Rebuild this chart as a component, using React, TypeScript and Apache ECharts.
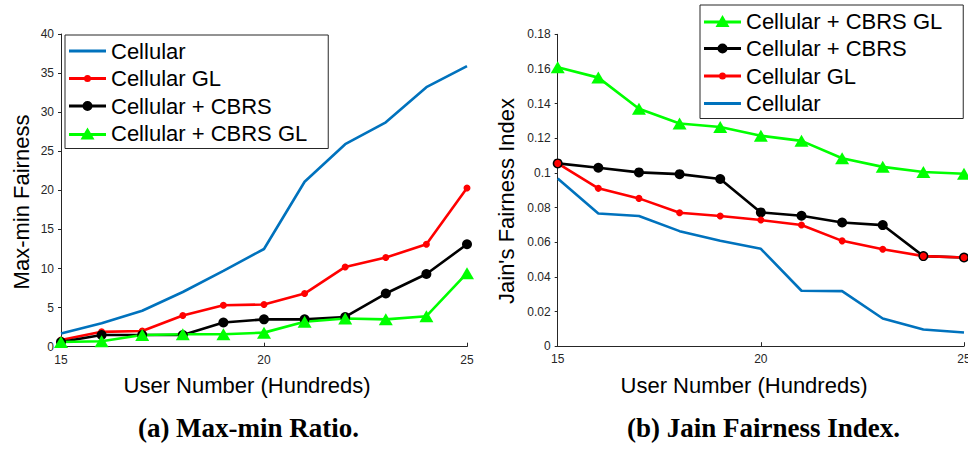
import React, { useEffect, useRef } from "react";
import * as echarts from "echarts";

const users = [15, 16, 17, 18, 19, 20, 21, 22, 23, 24, 25];

const maxMinCellular = [1.7, 3.0, 4.6, 7.0, 9.7, 12.5, 21.1, 25.9, 28.7, 33.2, 35.9];
const maxMinCellularGL = [0.85, 1.9, 2.0, 4.0, 5.3, 5.4, 6.8, 10.2, 11.4, 13.1, 20.3];
const maxMinCbrs = [0.6, 1.5, 1.5, 1.5, 3.1, 3.5, 3.5, 3.8, 6.8, 9.3, 13.1];
const maxMinCbrsGL = [0.6, 0.7, 1.5, 1.6, 1.6, 1.8, 3.2, 3.6, 3.5, 3.9, 9.4];

const jainCbrsGL = [0.161, 0.155, 0.137, 0.1285, 0.1265, 0.1215, 0.1185, 0.1085, 0.1035, 0.1005, 0.0995];
const jainCbrs = [0.1055, 0.103, 0.1003, 0.0993, 0.0965, 0.0772, 0.0753, 0.0714, 0.0699, 0.052, 0.0512];
const jainCellularGL = [0.1055, 0.0911, 0.0853, 0.077, 0.0751, 0.0728, 0.0699, 0.0608, 0.056, 0.052, 0.0512];
const jainCellular = [0.0968, 0.0766, 0.0751, 0.0664, 0.0608, 0.0562, 0.032, 0.0318, 0.016, 0.0096, 0.0079];

const xTicks = [15, 20, 25];
const leftLegendOrder = ["Cellular", "Cellular GL", "Cellular + CBRS", "Cellular + CBRS GL"];
const rightLegendOrder = ["Cellular + CBRS GL", "Cellular + CBRS", "Cellular GL", "Cellular"];

const COLORS: Record<string, string> = {
  Cellular: "#0072BD",
  "Cellular GL": "#FF0000",
  "Cellular + CBRS": "#000000",
  "Cellular + CBRS GL": "#00FF00",
};

const ICONS: Record<string, string> = {
  Cellular: "path://M0 0H37V3H0Z",
  "Cellular GL": "path://M0 1.5H37V4.5H0Z M15 3 A3.5 3.5 0 1 1 22 3 A3.5 3.5 0 1 1 15 3Z",
  "Cellular + CBRS": "path://M0 3.5H37V6.5H0Z M13.5 5 A5 5 0 1 1 23.5 5 A5 5 0 1 1 13.5 5Z",
  "Cellular + CBRS GL": "path://M0 5.5H37V8.5H0Z M11.5 12 L18.5 0 L25.5 12Z",
};

const SYMBOLS: Record<string, { symbol: string; size: number | number[] }> = {
  Cellular: { symbol: "none", size: 0 },
  "Cellular GL": { symbol: "circle", size: 7 },
  "Cellular + CBRS": { symbol: "circle", size: 10 },
  "Cellular + CBRS GL": { symbol: "triangle", size: [14, 12] },
};

const FONT = "Liberation Sans, Arial, Helvetica, sans-serif";
const AXIS_COLOR = "#262626";

function makeSeries(name: string, values: number[], idx: number) {
  const s = SYMBOLS[name];
  return {
    type: "line",
    name,
    xAxisIndex: idx,
    yAxisIndex: idx,
    data: users.map((u, i) => [u, values[i]]),
    symbol: s.symbol,
    symbolSize: s.size,
    showSymbol: s.symbol !== "none",
    lineStyle: { color: COLORS[name], width: 2.6 },
    itemStyle: { color: COLORS[name], borderWidth: 0 },
    emphasis: { disabled: true },
  };
}

function makeLegend(names: string[], left: number, top: number) {
  return {
    orient: "vertical",
    left,
    top,
    selectedMode: false,
    itemWidth: 37,
    itemHeight: 14,
    itemGap: 5.5,
    padding: [5, 21, 4, 4],
    borderColor: AXIS_COLOR,
    borderWidth: 1,
    backgroundColor: "#ffffff",
    itemStyle: { borderWidth: 0 },
    textStyle: { fontFamily: FONT, fontSize: 22, lineHeight: 22, color: "#000" },
    data: names.map((n) => ({ name: n, icon: ICONS[n] })),
  };
}

function xAxisCfg(gridIndex: number) {
  return {
    type: "value",
    gridIndex,
    min: 15,
    max: 25,
    interval: 5,
    axisLine: { show: true, lineStyle: { color: AXIS_COLOR, width: 1 } },
    axisTick: { show: true, inside: true, length: 4, lineStyle: { color: AXIS_COLOR } },
    splitLine: { show: false },
    axisLabel: {
      margin: 7,
      fontFamily: FONT,
      fontSize: 12,
      color: AXIS_COLOR,
      formatter: (v: number) => (xTicks.includes(v) ? String(v) : ""),
    },
  };
}

function yAxisCfg(gridIndex: number, max: number, interval: number) {
  return {
    type: "value",
    gridIndex,
    min: 0,
    max,
    interval,
    axisLine: { show: true, onZero: false, lineStyle: { color: AXIS_COLOR, width: 1 } },
    axisTick: { show: true, inside: false, length: 3, lineStyle: { color: AXIS_COLOR } },
    splitLine: { show: false },
    axisLabel: {
      margin: 7,
      fontFamily: FONT,
      fontSize: 12,
      color: AXIS_COLOR,
      formatter: (v: number) => String(+v.toFixed(2)),
    },
  };
}

function txt(text: string, x: number, y: number, font: string, rotation = 0) {
  return {
    type: "text",
    x,
    y,
    rotation,
    silent: true,
    style: { text, font, fill: "#000", textAlign: "center", textVerticalAlign: "middle" },
  };
}

export default function App() {
  const ref = useRef<HTMLDivElement>(null);
  useEffect(() => {
    if (!ref.current) return;
    const chart = echarts.init(ref.current, undefined, { renderer: "svg" });
    const option = {
      animation: false,
      backgroundColor: "#ffffff",
      grid: [
        { left: 61, top: 34, width: 406, height: 312.7, containLabel: false, outerBoundsMode: "none" },
        { left: 557.7, top: 34.3, width: 406.3, height: 311.9, containLabel: false, outerBoundsMode: "none" },
      ],
      xAxis: [xAxisCfg(0), xAxisCfg(1)],
      yAxis: [yAxisCfg(0, 40, 5), yAxisCfg(1, 0.18, 0.02)],
      legend: [makeLegend(leftLegendOrder, 65, 35), makeLegend(rightLegendOrder, 700, 5)],
      series: [
        makeSeries("Cellular", maxMinCellular, 0),
        makeSeries("Cellular GL", maxMinCellularGL, 0),
        makeSeries("Cellular + CBRS", maxMinCbrs, 0),
        makeSeries("Cellular + CBRS GL", maxMinCbrsGL, 0),
        makeSeries("Cellular", jainCellular, 1),
        makeSeries("Cellular + CBRS GL", jainCbrsGL, 1),
        makeSeries("Cellular + CBRS", jainCbrs, 1),
        makeSeries("Cellular GL", jainCellularGL, 1),
      ],
      graphic: [
        txt("User Number (Hundreds)", 247, 385, `22px ${FONT}`),
        txt("User Number (Hundreds)", 744, 385, `22px ${FONT}`),
        txt("Max-min Fairness", 21, 202, `22px ${FONT}`, Math.PI / 2),
        txt("Jain's Fairness Index", 506.5, 201, `22px ${FONT}`, Math.PI / 2),
        txt("(a) Max-min Ratio.", 248.5, 428, `bold 27px "Liberation Serif", "Times New Roman", serif`),
        txt("(b) Jain Fairness Index.", 763.5, 428, `bold 27px "Liberation Serif", "Times New Roman", serif`),
      ],
    };
    chart.setOption(option as any);
    return () => chart.dispose();
  }, []);
  return (
    <div
      ref={ref}
      style={{ position: "fixed", left: 0, top: 0, width: 968, height: 449, background: "#fff" }}
    />
  );
}
